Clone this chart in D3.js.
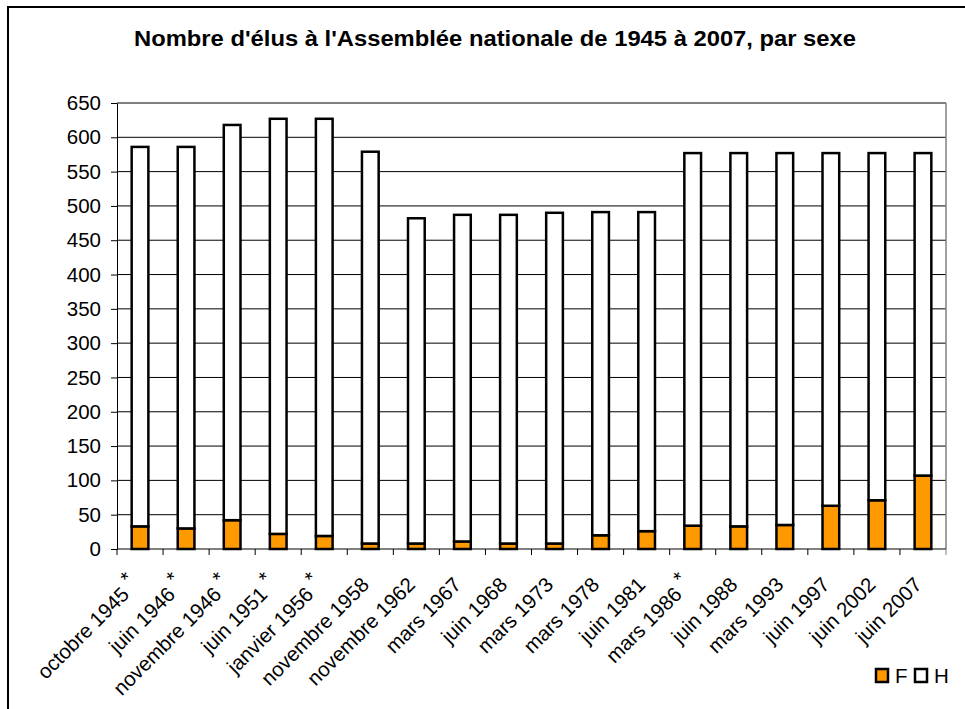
<!DOCTYPE html>
<html>
<head>
<meta charset="utf-8">
<script src="https://cdn.jsdelivr.net/npm/d3@7"></script>
<style>
  body { margin: 0; background: #fff; }
  svg { display: block; font-family: Arial, "Liberation Sans", sans-serif; }
</style>
</head>
<body>
<div id="chart"></div>
<script>
// legislatures
var categories = ["octobre 1945", "juin 1946", "novembre 1946", "juin 1951", "janvier 1956",
  "novembre 1958", "novembre 1962", "mars 1967", "juin 1968", "mars 1973", "mars 1978",
  "juin 1981", "mars 1986", "juin 1988", "mars 1993", "juin 1997", "juin 2002", "juin 2007"];
// asterisk after the label
var starred = [true, true, true, true, true, false, false, false, false, false, false,
  false, true, false, false, false, false, false];
// femmes
var valuesF = [33, 30, 42, 22, 19, 8, 8, 11, 8, 8, 20, 26, 34, 33, 35, 63, 71, 107];
// hommes
var valuesH = [553, 556, 576, 605, 608, 571, 474, 476, 479, 482, 471, 465, 543, 544, 542, 514, 506, 470];
var yTicks = d3.range(0, 651, 50);
var seriesNames = ["F", "H"];

var width = 965, height = 709;
var plotLeft = 117, plotRight = 946, plotTop = 103, plotBottom = 549;
var colorF = "#ff9900";

var svg = d3.select("#chart").append("svg")
  .attr("width", width)
  .attr("height", height);

// outer frame (top + left only visible)
svg.append("path")
  .attr("d", "M8,709 V7 H965")
  .attr("fill", "none")
  .attr("stroke", "#000")
  .attr("stroke-width", 2);

svg.append("text")
  .attr("x", 495)
  .attr("y", 46)
  .attr("text-anchor", "middle")
  .attr("textLength", 722)
  .attr("lengthAdjust", "spacingAndGlyphs")
  .style("font-size", "21.5px")
  .style("font-weight", "bold")
  .text("Nombre d'élus à l'Assemblée nationale de 1945 à 2007, par sexe");

var x = d3.scaleBand()
  .domain(categories)
  .range([plotLeft, plotRight])
  .paddingInner(0.583)
  .paddingOuter(0.2915);

var y = d3.scaleLinear()
  .domain([0, 650])
  .range([plotBottom, plotTop]);

// gridlines
svg.append("g").selectAll("line")
  .data(yTicks.filter(function(d) { return d > 0; }))
  .enter().append("line")
  .attr("x1", plotLeft).attr("x2", plotRight)
  .attr("y1", function(d) { return y(d); })
  .attr("y2", function(d) { return y(d); })
  .attr("stroke", "#000")
  .attr("stroke-width", 1);

// plot right border
svg.append("line")
  .attr("x1", plotRight).attr("x2", plotRight)
  .attr("y1", plotTop).attr("y2", plotBottom)
  .attr("stroke", "#808080")
  .attr("stroke-width", 1.5);

// y axis
var yAxis = svg.append("g")
  .attr("transform", "translate(" + plotLeft + ",0)")
  .call(d3.axisLeft(y).tickValues(yTicks).tickSize(6).tickPadding(10).tickSizeOuter(0));
yAxis.select(".domain").attr("stroke", "#000");
yAxis.selectAll("text").style("font-size", "20.5px").attr("fill", "#000");

// bars
var step = x.step();
var sw = 2.5;
var bars = svg.append("g").selectAll("g")
  .data(categories)
  .enter().append("g");

bars.append("rect")
  .attr("x", function(d) { return x(d) + sw / 2; })
  .attr("width", x.bandwidth() - sw)
  .attr("y", function(d, i) { return y(valuesF[i]); })
  .attr("height", function(d, i) { return y(0) - y(valuesF[i]); })
  .attr("fill", colorF)
  .attr("stroke", "#000")
  .attr("stroke-width", sw);

bars.append("rect")
  .attr("x", function(d) { return x(d) + sw / 2; })
  .attr("width", x.bandwidth() - sw)
  .attr("y", function(d, i) { return y(valuesF[i] + valuesH[i]); })
  .attr("height", function(d, i) { return y(valuesF[i]) - y(valuesF[i] + valuesH[i]); })
  .attr("fill", "#fff")
  .attr("stroke", "#000")
  .attr("stroke-width", sw);

// x axis line + ticks at band edges
svg.append("line")
  .attr("x1", plotLeft).attr("x2", plotRight)
  .attr("y1", plotBottom).attr("y2", plotBottom)
  .attr("stroke", "#000");

svg.append("g").selectAll("line")
  .data(d3.range(categories.length + 1))
  .enter().append("line")
  .attr("x1", function(i) { return plotLeft + i * step; })
  .attr("x2", function(i) { return plotLeft + i * step; })
  .attr("y1", plotBottom).attr("y2", plotBottom + 6)
  .attr("stroke", function(i) { return i == categories.length ? "#808080" : "#000"; });

// x labels
var labels = svg.append("g").selectAll("text")
  .data(categories)
  .enter().append("text")
  .attr("text-anchor", "end")
  .attr("transform", function(d) {
    return "translate(" + (x(d) + x.bandwidth() / 2) + "," + (plotBottom + 37) + ") rotate(-45)";
  })
  .style("font-size", "20.5px");

labels.append("tspan").text(function(d) { return d; });
labels.filter(function(d, i) { return starred[i]; })
  .append("tspan")
  .attr("dy", -8)
  .text("\u00a0*");

// legend
var legend = svg.append("g").selectAll("g")
  .data(seriesNames)
  .enter().append("g")
  .attr("transform", function(d, i) { return "translate(" + (876 + i * 39) + ",669)"; });

legend.append("rect")
  .attr("width", 12)
  .attr("height", 13)
  .attr("fill", function(d) { return d == "F" ? colorF : "#fff"; })
  .attr("stroke", "#000")
  .attr("stroke-width", 2.5);

legend.append("text")
  .attr("x", 19)
  .attr("y", 14)
  .style("font-size", "20.5px")
  .text(function(d) { return d; });
</script>
</body>
</html>
